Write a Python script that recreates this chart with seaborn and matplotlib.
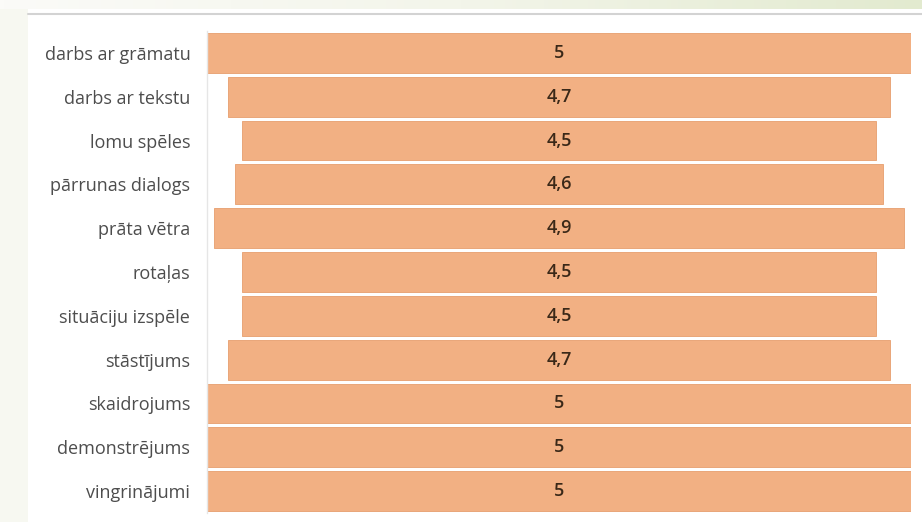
import matplotlib.pyplot as plt
import seaborn as sns
import numpy as np
import pandas as pd
from matplotlib.colors import LinearSegmentedColormap

categories = ['darbs ar grāmatu', 'darbs ar tekstu', 'lomu spēles', 'pārrunas dialogs',
              'prāta vētra', 'rotaļas', 'situāciju izspēle', 'stāstījums',
              'skaidrojums', 'demonstrējums', 'vingrinājumi']
values = [5, 4.7, 4.5, 4.6, 4.9, 4.5, 4.5, 4.7, 5, 5, 5]
max_value = 5

df = pd.DataFrame({'method': categories, 'score': values})

sns.set_theme(style="white")
plt.rcParams['font.family'] = ['Open Sans', 'DejaVu Sans']

W, H = 922, 522
fig = plt.figure(figsize=(W / 100, H / 100), dpi=100)

# faint page background strip on the left and green gradient band on top
bg = fig.add_axes([0, 0, 28 / W, 1])
bg.set_facecolor('#f7f8f1')
bg.set_xticks([]); bg.set_yticks([])
for s in bg.spines.values():
    s.set_visible(False)

band = fig.add_axes([0, 1 - 9 / H, 1, 9 / H])
grad = np.linspace(0, 1, 256)[None, :]
cmap = LinearSegmentedColormap.from_list('band', ['#fbfbf8', '#f3f5ea', '#e2eacf'])
band.imshow(grad, aspect='auto', cmap=cmap, extent=[0, 1, 0, 1])
band.axis('off')

fig.add_artist(plt.Line2D([28 / W, 1], [1 - 14 / H, 1 - 14 / H], color='#d3d3d3', lw=1.5))

ax = fig.add_axes([207 / W, 1 - 513 / H, 704 / W, 482 / H])
sns.barplot(data=df, x='score', y='method', orient='h', color='#f2b083',
            width=0.91, saturation=1, edgecolor='#e9a679', linewidth=0.7, ax=ax)

# center each bar (funnel layout)
for patch, v in zip(ax.patches, values):
    patch.set_x((max_value - v) / 2)
    ax.text(max_value / 2, patch.get_y() + patch.get_height() / 2,
            f'{v:g}'.replace('.', ','), ha='center', va='center',
            fontsize=13, fontweight='semibold', color='#3a2818')

ax.set_xlim(0, max_value)
ax.set_ylim(len(categories) - 0.5, -0.5)
ax.set_xlabel('')
ax.set_ylabel('')
ax.set_xticks([])
ax.tick_params(axis='y', length=0, pad=12, labelsize=13, labelcolor='#4d4d4d')
for side in ['top', 'right', 'bottom']:
    ax.spines[side].set_visible(False)
ax.spines['left'].set_color('#e6e6e6')
ax.spines['left'].set_linewidth(1)

plt.savefig('out.png', dpi=100)
plt.close()
